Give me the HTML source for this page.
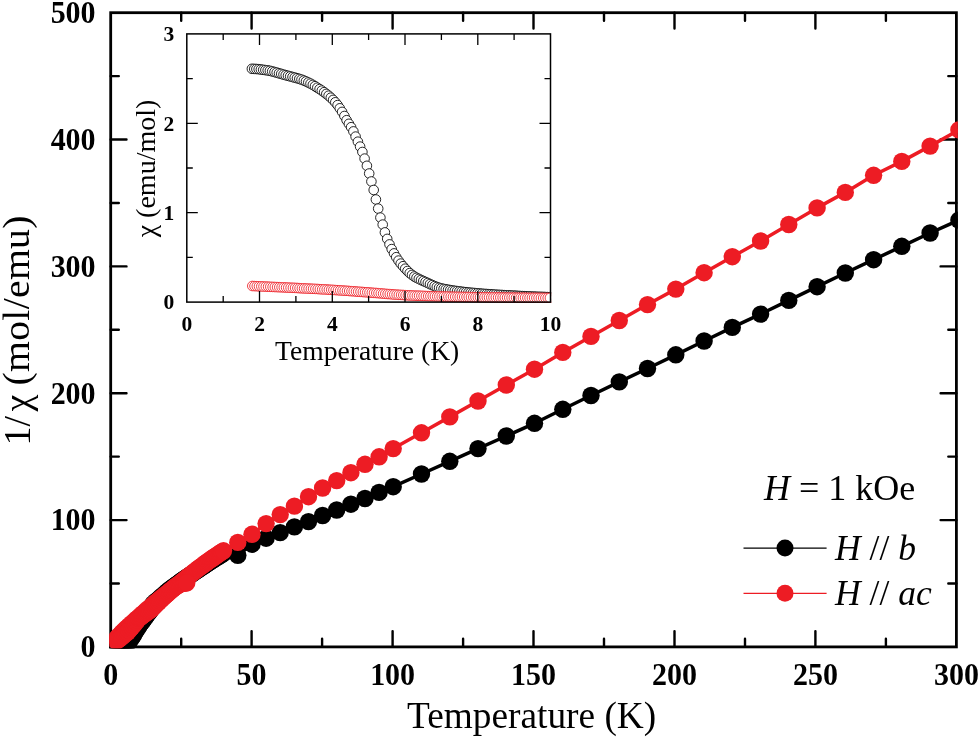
<!DOCTYPE html>
<html lang="en"><head><meta charset="utf-8"><title>Inverse susceptibility</title>
<style>html,body{margin:0;padding:0;background:#fff}body{width:979px;height:738px;overflow:hidden}svg{display:block}</style></head>
<body>
<svg width="979" height="738" viewBox="0 0 979 738">
<rect x="0" y="0" width="979" height="738" fill="#ffffff"/>
<defs><clipPath id="mc"><rect x="109.3" y="11.3" width="848.5" height="637.0"/></clipPath>
<clipPath id="ic"><rect x="186" y="33" width="365.3" height="270"/></clipPath></defs>
<g stroke="#000" stroke-width="2.8" fill="none" stroke-linecap="butt">
<rect x="110.7" y="12.7" width="845.7" height="634.2"/>
</g>
<g stroke="#000" stroke-width="2.4" stroke-linecap="round">
<path d="M181.2 646.9V638.8 M181.2 12.7V20.8"/>
<path d="M251.6 646.9V631.1 M251.6 12.7V28.5"/>
<path d="M322.1 646.9V638.8 M322.1 12.7V20.8"/>
<path d="M392.6 646.9V631.1 M392.6 12.7V28.5"/>
<path d="M463.1 646.9V638.8 M463.1 12.7V20.8"/>
<path d="M533.5 646.9V631.1 M533.5 12.7V28.5"/>
<path d="M604.0 646.9V638.8 M604.0 12.7V20.8"/>
<path d="M674.5 646.9V631.1 M674.5 12.7V28.5"/>
<path d="M745.0 646.9V638.8 M745.0 12.7V20.8"/>
<path d="M815.4 646.9V631.1 M815.4 12.7V28.5"/>
<path d="M885.9 646.9V638.8 M885.9 12.7V20.8"/>
<path d="M110.7 583.5H118.8 M956.4 583.5H948.3"/>
<path d="M110.7 520.1H126.5 M956.4 520.1H940.6"/>
<path d="M110.7 456.6H118.8 M956.4 456.6H948.3"/>
<path d="M110.7 393.2H126.5 M956.4 393.2H940.6"/>
<path d="M110.7 329.8H118.8 M956.4 329.8H948.3"/>
<path d="M110.7 266.4H126.5 M956.4 266.4H940.6"/>
<path d="M110.7 203.0H118.8 M956.4 203.0H948.3"/>
<path d="M110.7 139.5H126.5 M956.4 139.5H940.6"/>
<path d="M110.7 76.1H118.8 M956.4 76.1H948.3"/>
</g>
<g clip-path="url(#mc)">
<path d="M116.3 646.4 L117.7 646.4 L119.2 646.4 L120.6 646.4 L122.0 646.3 L123.4 646.3 L124.8 646.0 L126.2 645.1 L127.6 643.6 L129.0 642.0 L130.4 639.9 L131.8 637.7 L133.3 635.5 L134.7 633.1 L136.1 630.7 L137.5 628.3 L138.9 626.0 L140.3 623.8 L141.7 621.5 L143.1 619.3 L144.5 617.1 L145.9 614.9 L147.3 612.7 L148.8 610.6 L150.2 608.4 L151.6 606.2 L153.0 604.0 L154.4 602.8 L155.8 601.5 L157.2 600.3 L158.6 599.1 L160.0 597.8 L161.4 596.6 L162.9 595.3 L164.3 594.1 L165.7 592.8 L167.1 591.6 L168.5 590.6 L169.9 589.5 L171.3 588.5 L172.7 587.4 L174.1 586.4 L175.5 585.4 L176.9 584.3 L178.4 583.3 L179.8 582.2 L181.2 581.2 L182.6 580.2 L184.0 579.3 L185.4 578.3 L186.8 577.4 L188.2 576.4 L189.6 575.5 L191.0 574.5 L192.5 573.6 L193.9 572.6 L195.3 571.7 L196.7 570.7 L198.1 569.8 L199.5 568.8 L200.9 567.9 L202.3 566.9 L203.7 566.0 L205.1 565.0 L206.5 564.1 L208.0 563.1 L209.4 562.2 L210.8 561.3 L212.2 560.4 L213.6 559.5 L215.0 558.6 L216.4 557.7 L217.8 556.8 L219.2 556.0 L220.6 555.1 L222.1 554.2 L223.5 553.3 L237.8 555.3 L252.0 544.2 L266.1 538.2 L280.2 532.6 L294.4 526.9 L308.5 521.6 L322.6 515.5 L336.7 510.0 L350.9 504.2 L365.0 498.5 L379.1 492.4 L393.2 486.7 L421.5 474.0 L449.8 461.3 L478.0 448.6 L506.3 436.0 L534.5 423.3 L562.8 409.3 L591.0 395.5 L619.3 381.9 L647.5 368.5 L675.8 354.8 L704.1 341.0 L732.3 327.4 L760.6 314.1 L788.8 300.4 L817.1 286.7 L845.3 273.0 L873.6 259.7 L901.8 246.3 L930.1 233.0 L958.9 220.1" fill="none" stroke="#000000" stroke-width="3.5" stroke-linejoin="round"/>
<g fill="#000000">
<circle cx="116.3" cy="646.4" r="8.7"/>
<circle cx="117.7" cy="646.4" r="8.7"/>
<circle cx="119.2" cy="646.4" r="8.7"/>
<circle cx="120.6" cy="646.4" r="8.7"/>
<circle cx="122.0" cy="646.3" r="8.7"/>
<circle cx="123.4" cy="646.3" r="8.7"/>
<circle cx="124.8" cy="646.0" r="8.7"/>
<circle cx="126.2" cy="645.1" r="8.7"/>
<circle cx="127.6" cy="643.6" r="8.7"/>
<circle cx="129.0" cy="642.0" r="8.7"/>
<circle cx="130.4" cy="639.9" r="8.7"/>
<circle cx="131.8" cy="637.7" r="8.7"/>
<circle cx="133.3" cy="635.5" r="8.7"/>
<circle cx="134.7" cy="633.1" r="8.7"/>
<circle cx="136.1" cy="630.7" r="8.7"/>
<circle cx="137.5" cy="628.3" r="8.7"/>
<circle cx="138.9" cy="626.0" r="8.7"/>
<circle cx="140.3" cy="623.8" r="8.7"/>
<circle cx="141.7" cy="621.5" r="8.7"/>
<circle cx="143.1" cy="619.3" r="8.7"/>
<circle cx="144.5" cy="617.1" r="8.7"/>
<circle cx="145.9" cy="614.9" r="8.7"/>
<circle cx="147.3" cy="612.7" r="8.7"/>
<circle cx="148.8" cy="610.6" r="8.7"/>
<circle cx="150.2" cy="608.4" r="8.7"/>
<circle cx="151.6" cy="606.2" r="8.7"/>
<circle cx="153.0" cy="604.0" r="8.7"/>
<circle cx="154.4" cy="602.8" r="8.7"/>
<circle cx="155.8" cy="601.5" r="8.7"/>
<circle cx="157.2" cy="600.3" r="8.7"/>
<circle cx="158.6" cy="599.1" r="8.7"/>
<circle cx="160.0" cy="597.8" r="8.7"/>
<circle cx="161.4" cy="596.6" r="8.7"/>
<circle cx="162.9" cy="595.3" r="8.7"/>
<circle cx="164.3" cy="594.1" r="8.7"/>
<circle cx="165.7" cy="592.8" r="8.7"/>
<circle cx="167.1" cy="591.6" r="8.7"/>
<circle cx="168.5" cy="590.6" r="8.7"/>
<circle cx="169.9" cy="589.5" r="8.7"/>
<circle cx="171.3" cy="588.5" r="8.7"/>
<circle cx="172.7" cy="587.4" r="8.7"/>
<circle cx="174.1" cy="586.4" r="8.7"/>
<circle cx="175.5" cy="585.4" r="8.7"/>
<circle cx="176.9" cy="584.3" r="8.7"/>
<circle cx="178.4" cy="583.3" r="8.7"/>
<circle cx="179.8" cy="582.2" r="8.7"/>
<circle cx="181.2" cy="581.2" r="8.7"/>
<circle cx="182.6" cy="580.2" r="8.7"/>
<circle cx="184.0" cy="579.3" r="8.7"/>
<circle cx="185.4" cy="578.3" r="8.7"/>
<circle cx="186.8" cy="577.4" r="8.7"/>
<circle cx="188.2" cy="576.4" r="8.7"/>
<circle cx="189.6" cy="575.5" r="8.7"/>
<circle cx="191.0" cy="574.5" r="8.7"/>
<circle cx="192.5" cy="573.6" r="8.7"/>
<circle cx="193.9" cy="572.6" r="8.7"/>
<circle cx="195.3" cy="571.7" r="8.7"/>
<circle cx="196.7" cy="570.7" r="8.7"/>
<circle cx="198.1" cy="569.8" r="8.7"/>
<circle cx="199.5" cy="568.8" r="8.7"/>
<circle cx="200.9" cy="567.9" r="8.7"/>
<circle cx="202.3" cy="566.9" r="8.7"/>
<circle cx="203.7" cy="566.0" r="8.7"/>
<circle cx="205.1" cy="565.0" r="8.7"/>
<circle cx="206.5" cy="564.1" r="8.7"/>
<circle cx="208.0" cy="563.1" r="8.7"/>
<circle cx="209.4" cy="562.2" r="8.7"/>
<circle cx="210.8" cy="561.3" r="8.7"/>
<circle cx="212.2" cy="560.4" r="8.7"/>
<circle cx="213.6" cy="559.5" r="8.7"/>
<circle cx="215.0" cy="558.6" r="8.7"/>
<circle cx="216.4" cy="557.7" r="8.7"/>
<circle cx="217.8" cy="556.8" r="8.7"/>
<circle cx="219.2" cy="556.0" r="8.7"/>
<circle cx="220.6" cy="555.1" r="8.7"/>
<circle cx="222.1" cy="554.2" r="8.7"/>
<circle cx="223.5" cy="553.3" r="8.7"/>
<circle cx="237.8" cy="555.3" r="8.7"/>
<circle cx="252.0" cy="544.2" r="8.7"/>
<circle cx="266.1" cy="538.2" r="8.7"/>
<circle cx="280.2" cy="532.6" r="8.7"/>
<circle cx="294.4" cy="526.9" r="8.7"/>
<circle cx="308.5" cy="521.6" r="8.7"/>
<circle cx="322.6" cy="515.5" r="8.7"/>
<circle cx="336.7" cy="510.0" r="8.7"/>
<circle cx="350.9" cy="504.2" r="8.7"/>
<circle cx="365.0" cy="498.5" r="8.7"/>
<circle cx="379.1" cy="492.4" r="8.7"/>
<circle cx="393.2" cy="486.7" r="8.7"/>
<circle cx="421.5" cy="474.0" r="8.7"/>
<circle cx="449.8" cy="461.3" r="8.7"/>
<circle cx="478.0" cy="448.6" r="8.7"/>
<circle cx="506.3" cy="436.0" r="8.7"/>
<circle cx="534.5" cy="423.3" r="8.7"/>
<circle cx="562.8" cy="409.3" r="8.7"/>
<circle cx="591.0" cy="395.5" r="8.7"/>
<circle cx="619.3" cy="381.9" r="8.7"/>
<circle cx="647.5" cy="368.5" r="8.7"/>
<circle cx="675.8" cy="354.8" r="8.7"/>
<circle cx="704.1" cy="341.0" r="8.7"/>
<circle cx="732.3" cy="327.4" r="8.7"/>
<circle cx="760.6" cy="314.1" r="8.7"/>
<circle cx="788.8" cy="300.4" r="8.7"/>
<circle cx="817.1" cy="286.7" r="8.7"/>
<circle cx="845.3" cy="273.0" r="8.7"/>
<circle cx="873.6" cy="259.7" r="8.7"/>
<circle cx="901.8" cy="246.3" r="8.7"/>
<circle cx="930.1" cy="233.0" r="8.7"/>
<circle cx="958.9" cy="220.1" r="8.7"/>
<circle cx="138.9" cy="626.0" r="8.7"/>
<circle cx="140.3" cy="624.1" r="8.7"/>
<circle cx="141.7" cy="622.2" r="8.7"/>
<circle cx="143.1" cy="620.3" r="8.7"/>
<circle cx="144.5" cy="618.4" r="8.7"/>
<circle cx="145.9" cy="616.5" r="8.7"/>
<circle cx="147.3" cy="614.6" r="8.7"/>
<circle cx="148.8" cy="612.7" r="8.7"/>
<circle cx="150.2" cy="610.8" r="8.7"/>
<circle cx="151.6" cy="608.9" r="8.7"/>
<circle cx="153.0" cy="607.1" r="8.7"/>
<circle cx="154.4" cy="605.2" r="8.7"/>
<circle cx="155.8" cy="603.4" r="8.7"/>
<circle cx="157.2" cy="602.0" r="8.7"/>
<circle cx="158.6" cy="600.6" r="8.7"/>
<circle cx="160.0" cy="599.2" r="8.7"/>
<circle cx="161.4" cy="597.8" r="8.7"/>
<circle cx="162.9" cy="596.4" r="8.7"/>
<circle cx="164.3" cy="595.0" r="8.7"/>
<circle cx="165.7" cy="593.6" r="8.7"/>
<circle cx="167.1" cy="592.2" r="8.7"/>
<circle cx="168.5" cy="591.1" r="8.7"/>
<circle cx="169.9" cy="590.0" r="8.7"/>
<circle cx="171.3" cy="588.9" r="8.7"/>
<circle cx="172.7" cy="587.8" r="8.7"/>
<circle cx="174.1" cy="586.7" r="8.7"/>
<circle cx="175.5" cy="585.6" r="8.7"/>
<circle cx="176.9" cy="584.5" r="8.7"/>
<circle cx="178.4" cy="583.4" r="8.7"/>
<circle cx="179.8" cy="582.3" r="8.7"/>
<circle cx="181.2" cy="581.2" r="8.7"/>
<circle cx="182.6" cy="580.2" r="8.7"/>
<circle cx="184.0" cy="579.3" r="8.7"/>
<circle cx="185.4" cy="578.3" r="8.7"/>
<circle cx="186.8" cy="577.4" r="8.7"/>
</g></g>
<g clip-path="url(#mc)">
<path d="M116.3 638.8 L117.7 637.2 L119.2 635.7 L120.6 634.2 L122.0 632.7 L123.4 631.2 L124.8 629.9 L126.2 628.6 L127.6 627.3 L129.0 626.0 L130.4 624.8 L131.8 623.5 L133.3 622.2 L134.7 620.9 L136.1 619.6 L137.5 618.4 L138.9 617.1 L140.3 615.9 L141.7 614.6 L143.1 613.4 L144.5 612.1 L145.9 610.9 L147.3 609.7 L148.8 608.5 L150.2 607.3 L151.6 606.1 L153.0 604.9 L154.4 603.7 L155.8 602.5 L157.2 601.3 L158.6 600.2 L160.0 599.0 L161.4 597.9 L162.9 596.7 L164.3 595.6 L165.7 594.4 L167.1 593.2 L168.5 592.1 L169.9 591.0 L171.3 589.9 L172.7 588.8 L174.1 587.7 L175.5 586.6 L176.9 585.5 L178.4 584.4 L179.8 583.3 L181.2 582.2 L182.6 581.1 L184.0 579.9 L185.4 578.8 L186.8 577.6 L188.2 576.5 L189.6 575.4 L191.0 574.2 L192.5 573.1 L193.9 571.9 L195.3 570.8 L196.7 569.8 L198.1 568.7 L199.5 567.7 L200.9 566.6 L202.3 565.6 L203.7 564.6 L205.1 563.5 L206.5 562.5 L208.0 561.4 L209.4 560.4 L210.8 559.4 L212.2 558.5 L213.6 557.5 L215.0 556.5 L216.4 555.6 L217.8 554.6 L219.2 553.6 L220.6 552.7 L222.1 551.7 L223.5 550.8 L237.8 542.4 L252.0 534.3 L266.1 523.6 L280.2 514.6 L294.4 506.1 L308.5 496.7 L322.6 488.0 L336.7 480.6 L350.9 472.7 L365.0 464.3 L379.1 456.8 L393.2 448.6 L421.5 432.8 L449.8 416.9 L478.0 401.0 L506.3 385.0 L534.5 369.2 L562.8 352.4 L591.0 336.4 L619.3 320.5 L647.5 304.6 L675.8 289.1 L704.1 272.7 L732.3 256.7 L760.6 241.0 L788.8 224.5 L817.1 207.9 L845.3 192.4 L873.6 175.3 L901.8 161.4 L930.1 146.1 L958.9 129.9" fill="none" stroke="#ed1c24" stroke-width="3.5" stroke-linejoin="round"/>
<g fill="#ed1c24">
<circle cx="116.3" cy="638.8" r="8.7"/>
<circle cx="117.7" cy="637.2" r="8.7"/>
<circle cx="119.2" cy="635.7" r="8.7"/>
<circle cx="120.6" cy="634.2" r="8.7"/>
<circle cx="122.0" cy="632.7" r="8.7"/>
<circle cx="123.4" cy="631.2" r="8.7"/>
<circle cx="124.8" cy="629.9" r="8.7"/>
<circle cx="126.2" cy="628.6" r="8.7"/>
<circle cx="127.6" cy="627.3" r="8.7"/>
<circle cx="129.0" cy="626.0" r="8.7"/>
<circle cx="130.4" cy="624.8" r="8.7"/>
<circle cx="131.8" cy="623.5" r="8.7"/>
<circle cx="133.3" cy="622.2" r="8.7"/>
<circle cx="134.7" cy="620.9" r="8.7"/>
<circle cx="136.1" cy="619.6" r="8.7"/>
<circle cx="137.5" cy="618.4" r="8.7"/>
<circle cx="138.9" cy="617.1" r="8.7"/>
<circle cx="140.3" cy="615.9" r="8.7"/>
<circle cx="141.7" cy="614.6" r="8.7"/>
<circle cx="143.1" cy="613.4" r="8.7"/>
<circle cx="144.5" cy="612.1" r="8.7"/>
<circle cx="145.9" cy="610.9" r="8.7"/>
<circle cx="147.3" cy="609.7" r="8.7"/>
<circle cx="148.8" cy="608.5" r="8.7"/>
<circle cx="150.2" cy="607.3" r="8.7"/>
<circle cx="151.6" cy="606.1" r="8.7"/>
<circle cx="153.0" cy="604.9" r="8.7"/>
<circle cx="154.4" cy="603.7" r="8.7"/>
<circle cx="155.8" cy="602.5" r="8.7"/>
<circle cx="157.2" cy="601.3" r="8.7"/>
<circle cx="158.6" cy="600.2" r="8.7"/>
<circle cx="160.0" cy="599.0" r="8.7"/>
<circle cx="161.4" cy="597.9" r="8.7"/>
<circle cx="162.9" cy="596.7" r="8.7"/>
<circle cx="164.3" cy="595.6" r="8.7"/>
<circle cx="165.7" cy="594.4" r="8.7"/>
<circle cx="167.1" cy="593.2" r="8.7"/>
<circle cx="168.5" cy="592.1" r="8.7"/>
<circle cx="169.9" cy="591.0" r="8.7"/>
<circle cx="171.3" cy="589.9" r="8.7"/>
<circle cx="172.7" cy="588.8" r="8.7"/>
<circle cx="174.1" cy="587.7" r="8.7"/>
<circle cx="175.5" cy="586.6" r="8.7"/>
<circle cx="176.9" cy="585.5" r="8.7"/>
<circle cx="178.4" cy="584.4" r="8.7"/>
<circle cx="179.8" cy="583.3" r="8.7"/>
<circle cx="181.2" cy="582.2" r="8.7"/>
<circle cx="182.6" cy="581.1" r="8.7"/>
<circle cx="184.0" cy="579.9" r="8.7"/>
<circle cx="185.4" cy="578.8" r="8.7"/>
<circle cx="186.8" cy="577.6" r="8.7"/>
<circle cx="188.2" cy="576.5" r="8.7"/>
<circle cx="189.6" cy="575.4" r="8.7"/>
<circle cx="191.0" cy="574.2" r="8.7"/>
<circle cx="192.5" cy="573.1" r="8.7"/>
<circle cx="193.9" cy="571.9" r="8.7"/>
<circle cx="195.3" cy="570.8" r="8.7"/>
<circle cx="196.7" cy="569.8" r="8.7"/>
<circle cx="198.1" cy="568.7" r="8.7"/>
<circle cx="199.5" cy="567.7" r="8.7"/>
<circle cx="200.9" cy="566.6" r="8.7"/>
<circle cx="202.3" cy="565.6" r="8.7"/>
<circle cx="203.7" cy="564.6" r="8.7"/>
<circle cx="205.1" cy="563.5" r="8.7"/>
<circle cx="206.5" cy="562.5" r="8.7"/>
<circle cx="208.0" cy="561.4" r="8.7"/>
<circle cx="209.4" cy="560.4" r="8.7"/>
<circle cx="210.8" cy="559.4" r="8.7"/>
<circle cx="212.2" cy="558.5" r="8.7"/>
<circle cx="213.6" cy="557.5" r="8.7"/>
<circle cx="215.0" cy="556.5" r="8.7"/>
<circle cx="216.4" cy="555.6" r="8.7"/>
<circle cx="217.8" cy="554.6" r="8.7"/>
<circle cx="219.2" cy="553.6" r="8.7"/>
<circle cx="220.6" cy="552.7" r="8.7"/>
<circle cx="222.1" cy="551.7" r="8.7"/>
<circle cx="223.5" cy="550.8" r="8.7"/>
<circle cx="237.8" cy="542.4" r="8.7"/>
<circle cx="252.0" cy="534.3" r="8.7"/>
<circle cx="266.1" cy="523.6" r="8.7"/>
<circle cx="280.2" cy="514.6" r="8.7"/>
<circle cx="294.4" cy="506.1" r="8.7"/>
<circle cx="308.5" cy="496.7" r="8.7"/>
<circle cx="322.6" cy="488.0" r="8.7"/>
<circle cx="336.7" cy="480.6" r="8.7"/>
<circle cx="350.9" cy="472.7" r="8.7"/>
<circle cx="365.0" cy="464.3" r="8.7"/>
<circle cx="379.1" cy="456.8" r="8.7"/>
<circle cx="393.2" cy="448.6" r="8.7"/>
<circle cx="421.5" cy="432.8" r="8.7"/>
<circle cx="449.8" cy="416.9" r="8.7"/>
<circle cx="478.0" cy="401.0" r="8.7"/>
<circle cx="506.3" cy="385.0" r="8.7"/>
<circle cx="534.5" cy="369.2" r="8.7"/>
<circle cx="562.8" cy="352.4" r="8.7"/>
<circle cx="591.0" cy="336.4" r="8.7"/>
<circle cx="619.3" cy="320.5" r="8.7"/>
<circle cx="647.5" cy="304.6" r="8.7"/>
<circle cx="675.8" cy="289.1" r="8.7"/>
<circle cx="704.1" cy="272.7" r="8.7"/>
<circle cx="732.3" cy="256.7" r="8.7"/>
<circle cx="760.6" cy="241.0" r="8.7"/>
<circle cx="788.8" cy="224.5" r="8.7"/>
<circle cx="817.1" cy="207.9" r="8.7"/>
<circle cx="845.3" cy="192.4" r="8.7"/>
<circle cx="873.6" cy="175.3" r="8.7"/>
<circle cx="901.8" cy="161.4" r="8.7"/>
<circle cx="930.1" cy="146.1" r="8.7"/>
<circle cx="958.9" cy="129.9" r="8.7"/>
<circle cx="116.3" cy="641.2" r="8.7"/>
<circle cx="117.7" cy="640.1" r="8.7"/>
<circle cx="119.2" cy="639.0" r="8.7"/>
<circle cx="120.6" cy="637.9" r="8.7"/>
<circle cx="122.0" cy="636.8" r="8.7"/>
<circle cx="123.4" cy="635.6" r="8.7"/>
<circle cx="124.8" cy="634.4" r="8.7"/>
<circle cx="126.2" cy="633.2" r="8.7"/>
<circle cx="127.6" cy="632.1" r="8.7"/>
<circle cx="129.0" cy="630.4" r="8.7"/>
<circle cx="130.4" cy="628.7" r="8.7"/>
<circle cx="131.8" cy="627.0" r="8.7"/>
<circle cx="133.3" cy="625.3" r="8.7"/>
<circle cx="134.7" cy="623.6" r="8.7"/>
<circle cx="136.1" cy="621.8" r="8.7"/>
<circle cx="137.5" cy="620.1" r="8.7"/>
<circle cx="138.9" cy="618.4" r="8.7"/>
<circle cx="140.3" cy="617.3" r="8.7"/>
<circle cx="141.7" cy="616.3" r="8.7"/>
<circle cx="143.1" cy="615.2" r="8.7"/>
<circle cx="144.5" cy="614.2" r="8.7"/>
<circle cx="145.9" cy="613.2" r="8.7"/>
<circle cx="147.3" cy="612.2" r="8.7"/>
<circle cx="148.8" cy="611.2" r="8.7"/>
<circle cx="150.2" cy="610.2" r="8.7"/>
<circle cx="151.6" cy="609.1" r="8.7"/>
<circle cx="153.0" cy="607.7" r="8.7"/>
<circle cx="154.4" cy="606.2" r="8.7"/>
<circle cx="155.8" cy="604.8" r="8.7"/>
<circle cx="157.2" cy="603.4" r="8.7"/>
<circle cx="158.6" cy="602.0" r="8.7"/>
<circle cx="160.0" cy="600.7" r="8.7"/>
<circle cx="161.4" cy="599.3" r="8.7"/>
<circle cx="162.9" cy="597.9" r="8.7"/>
<circle cx="164.3" cy="596.7" r="8.7"/>
<circle cx="165.7" cy="595.4" r="8.7"/>
<circle cx="167.1" cy="594.1" r="8.7"/>
<circle cx="168.5" cy="592.9" r="8.7"/>
<circle cx="169.9" cy="591.6" r="8.7"/>
<circle cx="171.3" cy="590.3" r="8.7"/>
<circle cx="172.7" cy="589.1" r="8.7"/>
<circle cx="174.1" cy="587.8" r="8.7"/>
<circle cx="175.5" cy="586.9" r="8.7"/>
<circle cx="176.9" cy="586.0" r="8.7"/>
<circle cx="178.4" cy="585.2" r="8.7"/>
<circle cx="179.8" cy="584.3" r="8.7"/>
<circle cx="181.2" cy="583.5" r="8.7"/>
<circle cx="182.6" cy="583.3" r="8.7"/>
<circle cx="184.0" cy="583.2" r="8.7"/>
<circle cx="185.4" cy="583.0" r="8.7"/>
<circle cx="186.8" cy="582.8" r="8.7"/>
</g></g>
<g font-family="'Liberation Serif',serif" font-weight="bold" font-size="31px" fill="#000">
<text transform="translate(110.7 685.3) scale(0.967 1)" text-anchor="middle">0</text>
<text transform="translate(251.6 685.3) scale(0.967 1)" text-anchor="middle">50</text>
<text transform="translate(392.6 685.3) scale(0.967 1)" text-anchor="middle">100</text>
<text transform="translate(533.5 685.3) scale(0.967 1)" text-anchor="middle">150</text>
<text transform="translate(674.5 685.3) scale(0.967 1)" text-anchor="middle">200</text>
<text transform="translate(815.4 685.3) scale(0.967 1)" text-anchor="middle">250</text>
<text transform="translate(956.4 685.3) scale(0.967 1)" text-anchor="middle">300</text>
<text transform="translate(95.6 657.2) scale(0.967 1)" text-anchor="end">0</text>
<text transform="translate(95.6 530.4) scale(0.967 1)" text-anchor="end">100</text>
<text transform="translate(95.6 403.5) scale(0.967 1)" text-anchor="end">200</text>
<text transform="translate(95.6 276.7) scale(0.967 1)" text-anchor="end">300</text>
<text transform="translate(95.6 149.8) scale(0.967 1)" text-anchor="end">400</text>
<text transform="translate(95.6 23.0) scale(0.967 1)" text-anchor="end">500</text>
</g>
<g font-family="'Liberation Serif',serif" fill="#000">
<text x="531.6" y="728.3" font-size="37.35px" text-anchor="middle">Temperature (K)</text>
<text transform="translate(29.6 441.4) rotate(-90)" font-size="38px"><tspan x="-4">1/</tspan><tspan x="30">χ</tspan></text>
<text transform="translate(29.2 385.6) rotate(-90) scale(1.045 1)" font-size="38px" letter-spacing="0.3">(mol/emu)</text>
<text x="764" y="500" font-size="36px"><tspan font-style="italic">H</tspan> = 1 kOe</text>
<text x="835" y="559.6" font-size="35.5px"><tspan font-style="italic">H</tspan> // <tspan font-style="italic">b</tspan></text>
<text x="835" y="605" font-size="35.5px"><tspan font-style="italic">H</tspan> // <tspan font-style="italic">ac</tspan></text>
</g>
<path d="M743.5 548.1H826.6" stroke="#000" stroke-width="1.3"/>
<circle cx="785" cy="548.1" r="8.5" fill="#000"/>
<path d="M743.5 593.3H826.6" stroke="#ed1c24" stroke-width="1.3"/>
<circle cx="785" cy="593.3" r="8.5" fill="#ed1c24"/>
<g clip-path="url(#ic)">
<g fill="#fff" stroke="#000" stroke-width="0.85">
<circle cx="251.9" cy="68.8" r="4.8"/>
<circle cx="254.2" cy="68.9" r="4.8"/>
<circle cx="256.4" cy="69.0" r="4.8"/>
<circle cx="258.7" cy="69.2" r="4.8"/>
<circle cx="260.9" cy="69.5" r="4.8"/>
<circle cx="263.2" cy="69.8" r="4.8"/>
<circle cx="265.4" cy="70.1" r="4.8"/>
<circle cx="267.7" cy="70.4" r="4.8"/>
<circle cx="269.9" cy="70.8" r="4.8"/>
<circle cx="272.2" cy="71.4" r="4.8"/>
<circle cx="274.5" cy="72.0" r="4.8"/>
<circle cx="276.7" cy="72.6" r="4.8"/>
<circle cx="279.0" cy="73.3" r="4.8"/>
<circle cx="281.2" cy="73.9" r="4.8"/>
<circle cx="283.5" cy="74.6" r="4.8"/>
<circle cx="285.7" cy="75.2" r="4.8"/>
<circle cx="288.0" cy="75.8" r="4.8"/>
<circle cx="290.2" cy="76.4" r="4.8"/>
<circle cx="292.5" cy="77.0" r="4.8"/>
<circle cx="294.7" cy="77.6" r="4.8"/>
<circle cx="297.0" cy="78.2" r="4.8"/>
<circle cx="299.3" cy="78.9" r="4.8"/>
<circle cx="301.5" cy="79.6" r="4.8"/>
<circle cx="303.8" cy="80.5" r="4.8"/>
<circle cx="306.0" cy="81.4" r="4.8"/>
<circle cx="308.3" cy="82.5" r="4.8"/>
<circle cx="310.5" cy="83.6" r="4.8"/>
<circle cx="312.8" cy="84.9" r="4.8"/>
<circle cx="315.0" cy="86.2" r="4.8"/>
<circle cx="317.3" cy="87.7" r="4.8"/>
<circle cx="319.6" cy="89.1" r="4.8"/>
<circle cx="321.8" cy="90.6" r="4.8"/>
<circle cx="324.1" cy="92.2" r="4.8"/>
<circle cx="326.3" cy="93.9" r="4.8"/>
<circle cx="328.6" cy="95.7" r="4.8"/>
<circle cx="330.8" cy="97.7" r="4.8"/>
<circle cx="333.1" cy="99.9" r="4.8"/>
<circle cx="335.3" cy="102.3" r="4.8"/>
<circle cx="337.6" cy="105.1" r="4.8"/>
<circle cx="339.8" cy="108.3" r="4.8"/>
<circle cx="342.1" cy="111.9" r="4.8"/>
<circle cx="344.4" cy="116.0" r="4.8"/>
<circle cx="346.6" cy="120.2" r="4.8"/>
<circle cx="348.9" cy="123.8" r="4.8"/>
<circle cx="351.1" cy="127.2" r="4.8"/>
<circle cx="353.4" cy="131.4" r="4.8"/>
<circle cx="355.6" cy="136.6" r="4.8"/>
<circle cx="357.9" cy="141.7" r="4.8"/>
<circle cx="360.1" cy="146.6" r="4.8"/>
<circle cx="362.4" cy="152.0" r="4.8"/>
<circle cx="364.6" cy="158.6" r="4.8"/>
<circle cx="366.9" cy="165.8" r="4.8"/>
<circle cx="369.2" cy="173.5" r="4.8"/>
<circle cx="371.4" cy="181.5" r="4.8"/>
<circle cx="373.7" cy="190.0" r="4.8"/>
<circle cx="375.9" cy="199.5" r="4.8"/>
<circle cx="378.2" cy="208.6" r="4.8"/>
<circle cx="380.4" cy="217.6" r="4.8"/>
<circle cx="382.7" cy="224.6" r="4.8"/>
<circle cx="384.9" cy="232.4" r="4.8"/>
<circle cx="387.2" cy="238.9" r="4.8"/>
<circle cx="389.5" cy="244.4" r="4.8"/>
<circle cx="391.7" cy="249.1" r="4.8"/>
<circle cx="394.0" cy="253.4" r="4.8"/>
<circle cx="396.2" cy="257.2" r="4.8"/>
<circle cx="398.5" cy="260.6" r="4.8"/>
<circle cx="400.7" cy="263.6" r="4.8"/>
<circle cx="403.0" cy="266.2" r="4.8"/>
<circle cx="405.2" cy="268.7" r="4.8"/>
<circle cx="407.5" cy="271.0" r="4.8"/>
<circle cx="409.7" cy="273.1" r="4.8"/>
<circle cx="412.0" cy="274.9" r="4.8"/>
<circle cx="414.3" cy="276.5" r="4.8"/>
<circle cx="416.5" cy="277.8" r="4.8"/>
<circle cx="418.8" cy="278.9" r="4.8"/>
<circle cx="421.0" cy="280.0" r="4.8"/>
<circle cx="423.3" cy="281.0" r="4.8"/>
<circle cx="425.5" cy="282.0" r="4.8"/>
<circle cx="427.8" cy="283.0" r="4.8"/>
<circle cx="430.0" cy="284.1" r="4.8"/>
<circle cx="432.3" cy="285.1" r="4.8"/>
<circle cx="434.6" cy="286.1" r="4.8"/>
<circle cx="436.8" cy="287.0" r="4.8"/>
<circle cx="439.1" cy="287.8" r="4.8"/>
<circle cx="441.3" cy="288.4" r="4.8"/>
<circle cx="443.6" cy="288.9" r="4.8"/>
<circle cx="445.8" cy="289.3" r="4.8"/>
<circle cx="448.1" cy="289.7" r="4.8"/>
<circle cx="450.3" cy="290.1" r="4.8"/>
<circle cx="452.6" cy="290.5" r="4.8"/>
<circle cx="454.8" cy="290.8" r="4.8"/>
<circle cx="457.1" cy="291.1" r="4.8"/>
<circle cx="459.4" cy="291.4" r="4.8"/>
<circle cx="461.6" cy="291.7" r="4.8"/>
<circle cx="463.9" cy="292.0" r="4.8"/>
<circle cx="466.1" cy="292.2" r="4.8"/>
<circle cx="468.4" cy="292.5" r="4.8"/>
<circle cx="470.6" cy="292.7" r="4.8"/>
<circle cx="472.9" cy="292.9" r="4.8"/>
<circle cx="475.1" cy="293.1" r="4.8"/>
<circle cx="477.4" cy="293.3" r="4.8"/>
<circle cx="479.7" cy="293.5" r="4.8"/>
<circle cx="481.9" cy="293.7" r="4.8"/>
<circle cx="484.2" cy="293.9" r="4.8"/>
<circle cx="486.4" cy="294.0" r="4.8"/>
<circle cx="488.7" cy="294.2" r="4.8"/>
<circle cx="490.9" cy="294.3" r="4.8"/>
<circle cx="493.2" cy="294.5" r="4.8"/>
<circle cx="495.4" cy="294.6" r="4.8"/>
<circle cx="497.7" cy="294.8" r="4.8"/>
<circle cx="499.9" cy="294.9" r="4.8"/>
<circle cx="502.2" cy="295.0" r="4.8"/>
<circle cx="504.5" cy="295.2" r="4.8"/>
<circle cx="506.7" cy="295.3" r="4.8"/>
<circle cx="509.0" cy="295.4" r="4.8"/>
<circle cx="511.2" cy="295.5" r="4.8"/>
<circle cx="513.5" cy="295.6" r="4.8"/>
<circle cx="515.7" cy="295.7" r="4.8"/>
<circle cx="518.0" cy="295.9" r="4.8"/>
<circle cx="520.2" cy="296.0" r="4.8"/>
<circle cx="522.5" cy="296.1" r="4.8"/>
<circle cx="524.8" cy="296.2" r="4.8"/>
<circle cx="527.0" cy="296.3" r="4.8"/>
<circle cx="529.3" cy="296.4" r="4.8"/>
<circle cx="531.5" cy="296.5" r="4.8"/>
<circle cx="533.8" cy="296.6" r="4.8"/>
<circle cx="536.0" cy="296.7" r="4.8"/>
<circle cx="538.3" cy="296.8" r="4.8"/>
<circle cx="540.5" cy="296.8" r="4.8"/>
<circle cx="542.8" cy="296.9" r="4.8"/>
<circle cx="545.0" cy="297.0" r="4.8"/>
<circle cx="547.3" cy="297.1" r="4.8"/>
<circle cx="549.6" cy="297.2" r="4.8"/>
</g>
<g fill="#fff" stroke="#ed1c24" stroke-width="0.85">
<circle cx="252.3" cy="286.0" r="4.8"/>
<circle cx="254.5" cy="286.1" r="4.8"/>
<circle cx="256.8" cy="286.2" r="4.8"/>
<circle cx="259.0" cy="286.3" r="4.8"/>
<circle cx="261.3" cy="286.4" r="4.8"/>
<circle cx="263.5" cy="286.5" r="4.8"/>
<circle cx="265.8" cy="286.6" r="4.8"/>
<circle cx="268.1" cy="286.7" r="4.8"/>
<circle cx="270.3" cy="286.8" r="4.8"/>
<circle cx="272.6" cy="286.9" r="4.8"/>
<circle cx="274.8" cy="287.0" r="4.8"/>
<circle cx="277.1" cy="287.1" r="4.8"/>
<circle cx="279.3" cy="287.2" r="4.8"/>
<circle cx="281.6" cy="287.3" r="4.8"/>
<circle cx="283.8" cy="287.4" r="4.8"/>
<circle cx="286.1" cy="287.5" r="4.8"/>
<circle cx="288.3" cy="287.6" r="4.8"/>
<circle cx="290.6" cy="287.7" r="4.8"/>
<circle cx="292.9" cy="287.8" r="4.8"/>
<circle cx="295.1" cy="287.9" r="4.8"/>
<circle cx="297.4" cy="288.0" r="4.8"/>
<circle cx="299.6" cy="288.2" r="4.8"/>
<circle cx="301.9" cy="288.3" r="4.8"/>
<circle cx="304.1" cy="288.4" r="4.8"/>
<circle cx="306.4" cy="288.5" r="4.8"/>
<circle cx="308.6" cy="288.6" r="4.8"/>
<circle cx="310.9" cy="288.7" r="4.8"/>
<circle cx="313.1" cy="288.8" r="4.8"/>
<circle cx="315.4" cy="288.9" r="4.8"/>
<circle cx="317.7" cy="289.0" r="4.8"/>
<circle cx="319.9" cy="289.2" r="4.8"/>
<circle cx="322.2" cy="289.3" r="4.8"/>
<circle cx="324.4" cy="289.4" r="4.8"/>
<circle cx="326.7" cy="289.5" r="4.8"/>
<circle cx="328.9" cy="289.7" r="4.8"/>
<circle cx="331.2" cy="289.8" r="4.8"/>
<circle cx="333.4" cy="289.9" r="4.8"/>
<circle cx="335.7" cy="290.1" r="4.8"/>
<circle cx="338.0" cy="290.2" r="4.8"/>
<circle cx="340.2" cy="290.4" r="4.8"/>
<circle cx="342.5" cy="290.5" r="4.8"/>
<circle cx="344.7" cy="290.7" r="4.8"/>
<circle cx="347.0" cy="290.8" r="4.8"/>
<circle cx="349.2" cy="291.0" r="4.8"/>
<circle cx="351.5" cy="291.2" r="4.8"/>
<circle cx="353.7" cy="291.3" r="4.8"/>
<circle cx="356.0" cy="291.5" r="4.8"/>
<circle cx="358.2" cy="291.7" r="4.8"/>
<circle cx="360.5" cy="291.8" r="4.8"/>
<circle cx="362.8" cy="292.0" r="4.8"/>
<circle cx="365.0" cy="292.2" r="4.8"/>
<circle cx="367.3" cy="292.3" r="4.8"/>
<circle cx="369.5" cy="292.5" r="4.8"/>
<circle cx="371.8" cy="292.7" r="4.8"/>
<circle cx="374.0" cy="292.9" r="4.8"/>
<circle cx="376.3" cy="293.0" r="4.8"/>
<circle cx="378.5" cy="293.2" r="4.8"/>
<circle cx="380.8" cy="293.4" r="4.8"/>
<circle cx="383.1" cy="293.6" r="4.8"/>
<circle cx="385.3" cy="293.8" r="4.8"/>
<circle cx="387.6" cy="294.0" r="4.8"/>
<circle cx="389.8" cy="294.1" r="4.8"/>
<circle cx="392.1" cy="294.3" r="4.8"/>
<circle cx="394.3" cy="294.5" r="4.8"/>
<circle cx="396.6" cy="294.6" r="4.8"/>
<circle cx="398.8" cy="294.8" r="4.8"/>
<circle cx="401.1" cy="294.9" r="4.8"/>
<circle cx="403.3" cy="295.0" r="4.8"/>
<circle cx="405.6" cy="295.2" r="4.8"/>
<circle cx="407.9" cy="295.3" r="4.8"/>
<circle cx="410.1" cy="295.4" r="4.8"/>
<circle cx="412.4" cy="295.5" r="4.8"/>
<circle cx="414.6" cy="295.6" r="4.8"/>
<circle cx="416.9" cy="295.7" r="4.8"/>
<circle cx="419.1" cy="295.7" r="4.8"/>
<circle cx="421.4" cy="295.8" r="4.8"/>
<circle cx="423.6" cy="295.9" r="4.8"/>
<circle cx="425.9" cy="296.0" r="4.8"/>
<circle cx="428.2" cy="296.1" r="4.8"/>
<circle cx="430.4" cy="296.2" r="4.8"/>
<circle cx="432.7" cy="296.2" r="4.8"/>
<circle cx="434.9" cy="296.3" r="4.8"/>
<circle cx="437.2" cy="296.4" r="4.8"/>
<circle cx="439.4" cy="296.4" r="4.8"/>
<circle cx="441.7" cy="296.5" r="4.8"/>
<circle cx="443.9" cy="296.5" r="4.8"/>
<circle cx="446.2" cy="296.6" r="4.8"/>
<circle cx="448.4" cy="296.6" r="4.8"/>
<circle cx="450.7" cy="296.7" r="4.8"/>
<circle cx="453.0" cy="296.7" r="4.8"/>
<circle cx="455.2" cy="296.8" r="4.8"/>
<circle cx="457.5" cy="296.8" r="4.8"/>
<circle cx="459.7" cy="296.9" r="4.8"/>
<circle cx="462.0" cy="296.9" r="4.8"/>
<circle cx="464.2" cy="297.0" r="4.8"/>
<circle cx="466.5" cy="297.0" r="4.8"/>
<circle cx="468.7" cy="297.0" r="4.8"/>
<circle cx="471.0" cy="297.1" r="4.8"/>
<circle cx="473.3" cy="297.1" r="4.8"/>
<circle cx="475.5" cy="297.2" r="4.8"/>
<circle cx="477.8" cy="297.2" r="4.8"/>
<circle cx="480.0" cy="297.2" r="4.8"/>
<circle cx="482.3" cy="297.2" r="4.8"/>
<circle cx="484.5" cy="297.3" r="4.8"/>
<circle cx="486.8" cy="297.3" r="4.8"/>
<circle cx="489.0" cy="297.3" r="4.8"/>
<circle cx="491.3" cy="297.4" r="4.8"/>
<circle cx="493.5" cy="297.4" r="4.8"/>
<circle cx="495.8" cy="297.4" r="4.8"/>
<circle cx="498.1" cy="297.4" r="4.8"/>
<circle cx="500.3" cy="297.5" r="4.8"/>
<circle cx="502.6" cy="297.5" r="4.8"/>
<circle cx="504.8" cy="297.5" r="4.8"/>
<circle cx="507.1" cy="297.6" r="4.8"/>
<circle cx="509.3" cy="297.6" r="4.8"/>
<circle cx="511.6" cy="297.6" r="4.8"/>
<circle cx="513.8" cy="297.6" r="4.8"/>
<circle cx="516.1" cy="297.7" r="4.8"/>
<circle cx="518.3" cy="297.7" r="4.8"/>
<circle cx="520.6" cy="297.7" r="4.8"/>
<circle cx="522.9" cy="297.7" r="4.8"/>
<circle cx="525.1" cy="297.7" r="4.8"/>
<circle cx="527.4" cy="297.8" r="4.8"/>
<circle cx="529.6" cy="297.8" r="4.8"/>
<circle cx="531.9" cy="297.8" r="4.8"/>
<circle cx="534.1" cy="297.8" r="4.8"/>
<circle cx="536.4" cy="297.8" r="4.8"/>
<circle cx="538.6" cy="297.8" r="4.8"/>
<circle cx="540.9" cy="297.9" r="4.8"/>
<circle cx="543.2" cy="297.9" r="4.8"/>
<circle cx="545.4" cy="297.9" r="4.8"/>
<circle cx="547.7" cy="297.9" r="4.8"/>
<circle cx="549.9" cy="297.9" r="4.8"/>
</g></g>
<rect x="186.8" y="33.9" width="363.7" height="268.2" fill="none" stroke="#000" stroke-width="1.5"/>
<g stroke="#000" stroke-width="1.3">
<path d="M223.2 302.1V296.1 M223.2 33.9V39.9"/>
<path d="M259.5 302.1V291.1 M259.5 33.9V44.9"/>
<path d="M295.9 302.1V296.1 M295.9 33.9V39.9"/>
<path d="M332.3 302.1V291.1 M332.3 33.9V44.9"/>
<path d="M368.6 302.1V296.1 M368.6 33.9V39.9"/>
<path d="M405.0 302.1V291.1 M405.0 33.9V44.9"/>
<path d="M441.4 302.1V296.1 M441.4 33.9V39.9"/>
<path d="M477.8 302.1V291.1 M477.8 33.9V44.9"/>
<path d="M514.1 302.1V296.1 M514.1 33.9V39.9"/>
<path d="M186.8 257.4H192.8 M550.5 257.4H544.5"/>
<path d="M186.8 212.7H197.8 M550.5 212.7H539.5"/>
<path d="M186.8 168.0H192.8 M550.5 168.0H544.5"/>
<path d="M186.8 123.3H197.8 M550.5 123.3H539.5"/>
<path d="M186.8 78.6H192.8 M550.5 78.6H544.5"/>
</g>
<g font-family="'Liberation Serif',serif" font-weight="bold" font-size="21.5px" fill="#000">
<text x="186.8" y="331" text-anchor="middle">0</text>
<text x="259.5" y="331" text-anchor="middle">2</text>
<text x="332.3" y="331" text-anchor="middle">4</text>
<text x="405.0" y="331" text-anchor="middle">6</text>
<text x="477.8" y="331" text-anchor="middle">8</text>
<text x="550.5" y="331" text-anchor="middle">10</text>
<text x="174.3" y="309.3" text-anchor="end">0</text>
<text x="174.3" y="219.9" text-anchor="end">1</text>
<text x="174.3" y="130.5" text-anchor="end">2</text>
<text x="174.3" y="41.1" text-anchor="end">3</text>
</g>
<g font-family="'Liberation Serif',serif" fill="#000">
<text x="367.2" y="359.5" font-size="27.6px" text-anchor="middle">Temperature (K)</text>
<text transform="translate(154.6 168.5) rotate(-90)" font-size="28px" text-anchor="middle">χ (emu/mol)</text>
</g>
</svg>
</body></html>
